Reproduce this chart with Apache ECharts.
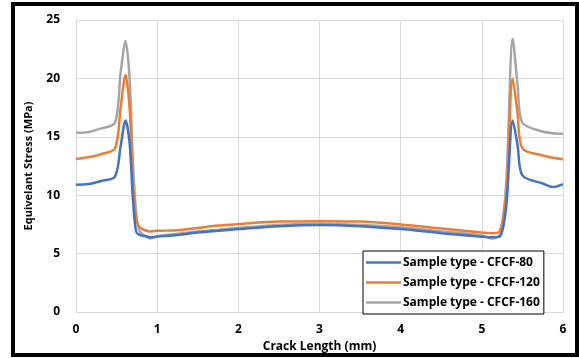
<!DOCTYPE html>
<html>
<head>
<meta charset="utf-8">
<script src="https://cdn.jsdelivr.net/npm/echarts@6/dist/echarts.min.js"></script>
<style>
  html, body { margin: 0; padding: 0; background: #fff; }
  #chart { position: absolute; left: 0; top: 0; width: 579px; height: 358px; }
  #frame {
    position: absolute; left: 11px; top: 2px; width: 568px; height: 355px;
    box-sizing: border-box; border: 4px solid #000; pointer-events: none;
  }
</style>
</head>
<body>
<div id="chart"></div>
<div id="frame"></div>
<script>
// crack length (mm), shared by all three series
const crackLength = [0, 0.15, 0.3, 0.48, 0.55, 0.61, 0.66, 0.7, 0.74, 0.78, 0.85, 0.92, 1.0, 1.25, 1.5, 1.75,
  2.0, 2.5, 3.0, 3.5, 4.0, 4.5, 5.0, 5.12, 5.22, 5.3, 5.38, 5.44, 5.5, 5.75, 5.88, 6.0]

const stressCFCF80 = [10.9, 10.95, 11.2, 11.6, 14.2, 16.4, 14.5, 9.8, 6.9, 6.6, 6.5, 6.4, 6.45, 6.6, 6.8, 6.95,
  7.1, 7.35, 7.45, 7.35, 7.1, 6.75, 6.45, 6.4, 6.45, 9.0, 16.4, 14.3, 11.7, 11.0, 10.7, 10.95]

const stressCFCF120 = [13.1, 13.25, 13.5, 14.0, 17.5, 20.3, 17.5, 11.5, 8.0, 7.3, 7.0, 6.9, 6.95, 7.0, 7.2, 7.4,
  7.53, 7.75, 7.78, 7.75, 7.5, 7.15, 6.8, 6.75, 6.9, 10.0, 20.0, 17.0, 14.0, 13.4, 13.2, 13.08]

const stressCFCF160 = [15.35, 15.4, 15.7, 16.2, 20.5, 23.2, 20.0, 13.0, 8.5, 7.0, 6.5, 6.3, 6.5, 6.7, 6.9, 7.05,
  7.2, 7.45, 7.55, 7.45, 7.25, 6.9, 6.55, 6.3, 6.6, 11.0, 23.4, 19.5, 16.2, 15.45, 15.3, 15.26]

const seriesNames = ['Sample type - CFCF-80', 'Sample type - CFCF-120', 'Sample type - CFCF-160']
const seriesColors = ['#4472c4', '#ed7d31', '#a5a5a5']
const seriesValues = [stressCFCF80, stressCFCF120, stressCFCF160]

const font = '"Open Sans", "Liberation Sans", sans-serif'
const chart = echarts.init(document.getElementById('chart'))

chart.setOption({
  backgroundColor: '#fff',
  animation: false,
  grid: { left: 76, right: 16, top: 20, bottom: 46 },
  legend: {
    orient: 'vertical',
    left: 363,
    top: 251,
    padding: [4, 4, 4, 3],
    icon: 'rect',
    itemWidth: 35,
    itemHeight: 2.5,
    itemGap: 5,
    backgroundColor: '#fff',
    borderColor: '#000',
    borderWidth: 1,
    textStyle: {
      fontFamily: font, fontWeight: 'bold', fontSize: 12, color: '#000',
      lineHeight: 15, padding: [0, 0, 0, -3],
    },
    data: seriesNames,
  },
  xAxis: {
    type: 'value',
    min: 0,
    max: 6,
    interval: 1,
    name: 'Crack Length (mm)',
    nameLocation: 'middle',
    nameGap: 23,
    nameTextStyle: { fontFamily: font, fontWeight: 'bold', fontSize: 12, color: '#000' },
    axisLine: { lineStyle: { color: '#d9d9d9' } },
    axisTick: { show: false },
    axisLabel: { fontFamily: font, fontWeight: 'bold', fontSize: 12, color: '#000', margin: 12 },
    splitLine: { lineStyle: { color: '#d9d9d9', width: 1 } },
  },
  yAxis: {
    type: 'value',
    min: 0,
    max: 25,
    interval: 5,
    name: 'Equivelant Stress (MPa)',
    nameLocation: 'middle',
    nameGap: 42,
    nameTextStyle: { fontFamily: font, fontWeight: 'bold', fontSize: 11, color: '#000' },
    axisLine: { show: true, lineStyle: { color: '#d9d9d9' } },
    axisTick: { show: false },
    axisLabel: { fontFamily: font, fontWeight: 'bold', fontSize: 12, color: '#000', margin: 16 },
    splitLine: { lineStyle: { color: '#d9d9d9', width: 1 } },
  },
  series: seriesValues.map((vals, i) => ({
    name: seriesNames[i],
    type: 'line',
    smooth: 0.3,
    symbol: 'none',
    color: seriesColors[i],
    lineStyle: { width: 2.5 },
    z: 3 - i,
    data: crackLength.map((x, j) => [x, vals[j]]),
  })),
})
</script>
</body>
</html>
